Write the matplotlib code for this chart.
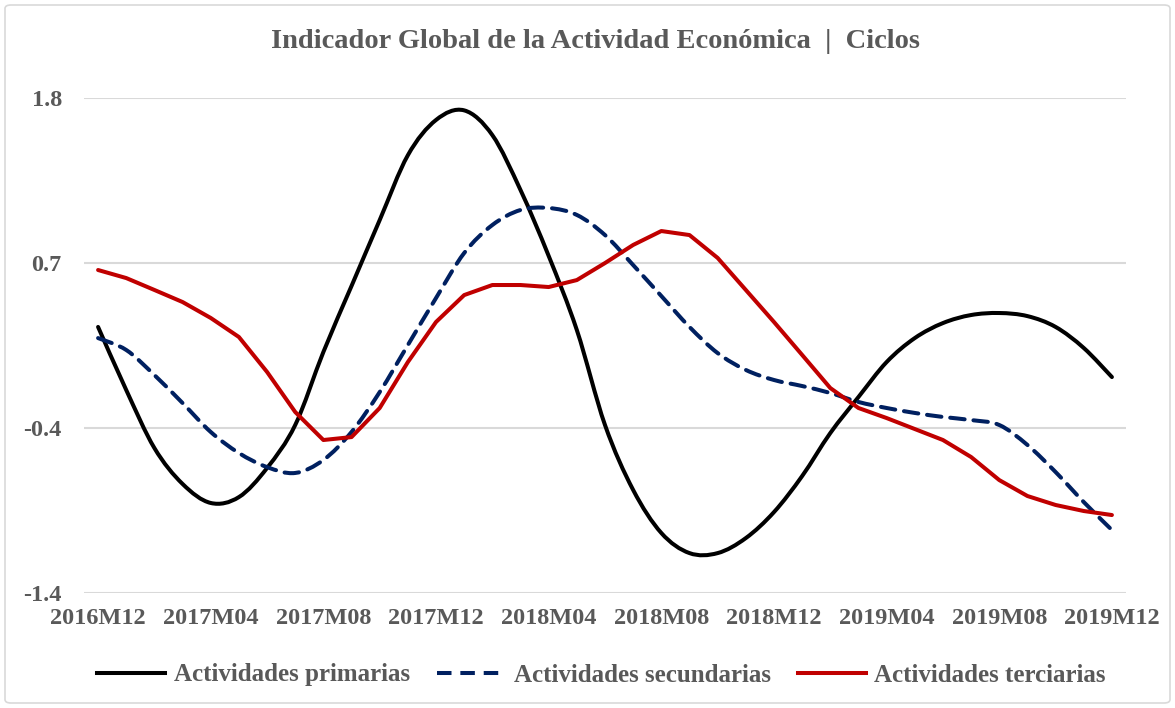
import numpy as np
from matplotlib import pyplot as plt
from matplotlib.patches import FancyBboxPatch, PathPatch
from matplotlib.path import Path
from matplotlib.lines import Line2D

# monthly data 2016M12 .. 2019M12
months = []
for y in range(2016, 2020):
    for m in range(1, 13):
        if (y == 2016 and m < 12):
            continue
        months.append(f'{y}M{m:02d}')

primarias = [0.320, -0.088, -0.463, -0.695, -0.818, -0.780, -0.592, -0.314, 0.158,
             0.585, 1.011, 1.430, 1.658, 1.720, 1.560, 1.205, 0.779, 0.300, -0.314,
             -0.734, -1.012, -1.142, -1.142, -1.045, -0.877, -0.644, -0.366, -0.133,
             0.093, 0.248, 0.345, 0.397, 0.410, 0.390, 0.320, 0.184, -0.004]
secundarias = [0.248, 0.171, 0.009, -0.172, -0.359, -0.495, -0.586, -0.624, -0.540,
               -0.359, -0.101, 0.203, 0.507, 0.798, 0.979, 1.076, 1.089, 1.044, 0.914,
               0.720, 0.520, 0.320, 0.151, 0.042, -0.023, -0.062, -0.107, -0.165,
               -0.204, -0.236, -0.262, -0.282, -0.314, -0.443, -0.618, -0.812, -0.993]
terciarias = [0.688, 0.636, 0.559, 0.481, 0.378, 0.255, 0.029, -0.230, -0.411,
              -0.392, -0.204, 0.093, 0.352, 0.526, 0.591, 0.591, 0.578, 0.623, 0.733,
              0.850, 0.940, 0.914, 0.766, 0.559, 0.352, 0.139, -0.075, -0.204,
              -0.269, -0.340, -0.411, -0.521, -0.670, -0.773, -0.831, -0.870, -0.896]

ytick_vals = [-1.4, -0.3333, 0.7333, 1.8]
ytick_labels = ['-1.4', '-0.4', '0.7', '1.8']

gray = '#595959'
blue = '#002060'
red = '#C00000'


def smooth_path(xs, ys):
    # excel-like smoothed line: cubic bezier through every point
    pts = np.column_stack([xs, ys]).astype(float)
    n = len(pts)
    verts = [pts[0]]
    codes = [Path.MOVETO]
    for i in range(n - 1):
        p0 = pts[i - 1] if i > 0 else pts[i]
        p3 = pts[i + 2] if i + 2 < n else pts[i + 1]
        c1 = pts[i] + (pts[i + 1] - p0) / 6
        c2 = pts[i + 1] - (p3 - pts[i]) / 6
        verts += [c1, c2, pts[i + 1]]
        codes += [Path.CURVE4] * 3
    return Path(verts, codes)


plt.rcParams['font.family'] = 'Liberation Serif'
plt.rcParams['font.weight'] = 'bold'

fig = plt.figure(figsize=(11.75, 7.08), dpi=100)
ax = fig.add_axes([84/1175, 1-593/708, (1126-84)/1175, (593-98)/708])

x = np.arange(len(months))
ax.add_patch(PathPatch(smooth_path(x, primarias), fill=False, edgecolor='black',
                       lw=2.9, capstyle='round', joinstyle='round'))
ax.add_patch(PathPatch(smooth_path(x, secundarias), fill=False, edgecolor=blue,
                       lw=2.9, linestyle=(0, (3.6, 2.2)), capstyle='round'))
ax.plot(x, terciarias, color=red, lw=2.9, solid_capstyle='round')

ax.set_xlim(-0.5, len(months) - 0.5)
ax.set_ylim(-1.4, 1.8)
ax.set_yticks(ytick_vals)
ax.set_yticklabels(ytick_labels)
ax.set_xticks(x[::4])
ax.set_xticklabels(months[::4])
ax.grid(axis='y', color='#D9D9D9', lw=1.5)
ax.set_axisbelow(True)
for s in ax.spines.values():
    s.set_visible(False)
ax.tick_params(length=0, labelsize=17.5, labelcolor=gray)
ax.tick_params(axis='y', pad=16)
ax.tick_params(axis='x', pad=11)

fig.text(0.507, 1-42/708, 'Indicador Global de la Actividad Económica  |  Ciclos',
         ha='center', va='center', fontsize=20.5, color=gray, fontweight='bold')

handles = [Line2D([], [], color='black', lw=2.9),
           Line2D([], [], color=blue, lw=2.9, dashes=(3.6, 2.2)),
           Line2D([], [], color=red, lw=2.9)]
names = ['Actividades primarias', 'Actividades secundarias', 'Actividades terciarias']
leg = fig.legend(handles, names, loc='center', bbox_to_anchor=(0.512, 1-675/708), ncol=3,
                 frameon=False, fontsize=18, handlelength=2.7, columnspacing=1.1,
                 handletextpad=0.35)
for t in leg.get_texts():
    t.set_color(gray)

fig.patches.append(FancyBboxPatch((5/1175, 5/708), 1165/1175, 698/708,
                                  boxstyle='round,pad=0,rounding_size=0.005',
                                  transform=fig.transFigure, fill=False,
                                  edgecolor='#D9D9D9', lw=1.2))

fig.savefig('out.png', dpi=100)
